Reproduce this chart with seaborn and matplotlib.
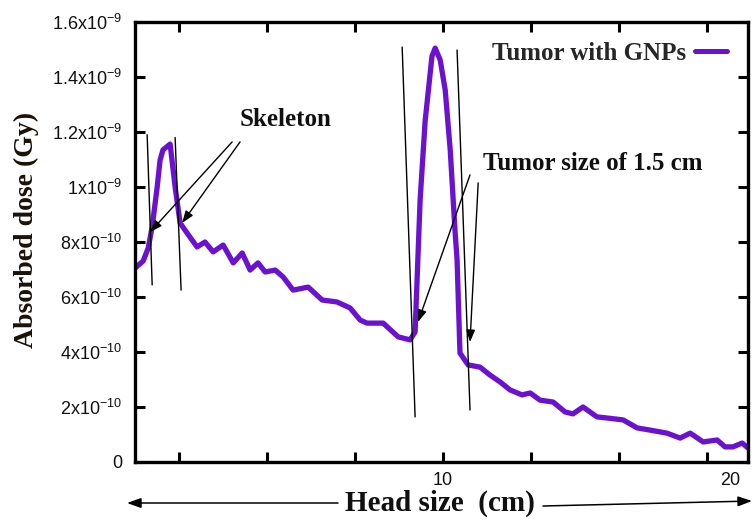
import numpy as np
import pandas as pd
import matplotlib
matplotlib.use("Agg")
import matplotlib.pyplot as plt
import matplotlib.transforms as mtransforms
from matplotlib.lines import Line2D
import seaborn as sns

# ---------------- data ----------------
head_size_cm = [-1.67, -1.36, -1.17, -1.02, -0.83, -0.72, -0.61, -0.34, -0.15, 0.04,
                0.30, 0.68, 0.98, 1.29, 1.67, 2.05, 2.39, 2.69, 2.99, 3.26,
                3.64, 3.94, 4.32, 4.89, 5.42, 5.98, 6.48, 6.86, 7.12, 7.73,
                8.30, 8.75, 8.94, 9.13, 9.32, 9.58, 9.70, 9.89, 10.08, 10.27,
                10.45, 10.53, 10.64, 10.95, 11.40, 11.78, 12.16, 12.54, 12.99, 13.30,
                13.67, 14.17, 14.62, 14.92, 15.30, 15.83, 16.21, 16.82, 17.35, 17.84,
                18.48, 18.98, 19.36, 19.85, 20.38, 20.68, 20.98, 21.33, 21.55]
dose_gy = [7.05e-10, 7.31e-10, 7.78e-10, 8.55e-10, 1.000e-9, 1.098e-9, 1.135e-9, 1.156e-9, 1.000e-9, 8.69e-10,
           8.33e-10, 7.82e-10, 8.00e-10, 7.64e-10, 7.89e-10, 7.24e-10, 7.60e-10, 6.98e-10, 7.24e-10, 6.91e-10,
           6.98e-10, 6.73e-10, 6.25e-10, 6.36e-10, 5.89e-10, 5.82e-10, 5.60e-10, 5.16e-10, 5.05e-10, 5.05e-10,
           4.55e-10, 4.44e-10, 4.73e-10, 9.53e-10, 1.240e-9, 1.476e-9, 1.505e-9, 1.462e-9, 1.353e-9, 1.135e-9,
           8.44e-10, 7.35e-10, 3.96e-10, 3.53e-10, 3.45e-10, 3.16e-10, 2.91e-10, 2.62e-10, 2.44e-10, 2.51e-10,
           2.25e-10, 2.18e-10, 1.82e-10, 1.75e-10, 2.00e-10, 1.64e-10, 1.60e-10, 1.53e-10, 1.24e-10, 1.16e-10,
           1.05e-10, 0.87e-10, 1.05e-10, 0.73e-10, 0.80e-10, 0.55e-10, 0.55e-10, 0.69e-10, 0.51e-10]

series_label = "Tumor with GNPs"
x_tick_positions = [0, 10 / 3, 20 / 3, 10, 40 / 3, 50 / 3, 20]
x_tick_labels = ["", "", "", "10", "", "", "20"]
y_tick_values = [0, 2e-10, 4e-10, 6e-10, 8e-10, 1e-9, 1.2e-9, 1.4e-9, 1.6e-9]
y_tick_labels = ["0", "2x10$^{-10}$", "4x10$^{-10}$", "6x10$^{-10}$", "8x10$^{-10}$",
                 "1x10$^{-9}$", "1.2x10$^{-9}$", "1.4x10$^{-9}$", "1.6x10$^{-9}$"]

# ---------------- style ----------------
sns.set_theme(style="white")
plt.rcParams["font.family"] = ["Liberation Sans", "DejaVu Sans"]
plt.rcParams["mathtext.default"] = "regular"

purple = "#6a12d0"
serif = ["Liberation Serif", "DejaVu Serif"]

fig = plt.figure(figsize=(7.53, 5.2), dpi=100)
ax = fig.add_axes([135 / 753, 1 - 462 / 520, (748 - 135) / 753, (462 - 22) / 520])

df = pd.DataFrame({"Head size (cm)": head_size_cm, "Absorbed dose (Gy)": dose_gy})
sns.lineplot(data=df, x="Head size (cm)", y="Absorbed dose (Gy)", ax=ax,
             color=purple, linewidth=3.8, legend=False)

ax.set_xlim(-1.67, 21.55)
ax.set_ylim(0, 1.6e-9)
ax.set_xticks(x_tick_positions)
ax.set_xticklabels(x_tick_labels)
ax.set_yticks(y_tick_values)
ax.set_yticklabels(y_tick_labels)
ax.set_xlabel("")
ax.set_ylabel("")

for sp in ax.spines.values():
    sp.set_visible(True)
    sp.set_color("black")
    sp.set_linewidth(2.4)
ax.tick_params(axis="both", which="major", direction="in", length=7, width=2.2,
               top=True, right=True, bottom=True, left=True, colors="black",
               labelsize=13, labelcolor="#111111")
ax.tick_params(axis="y", pad=9)
ax.tick_params(axis="x", pad=7)
# the "20" label sits a little to the right of its tick
for lab in ax.get_xticklabels():
    if lab.get_text() == "20":
        lab.set_transform(lab.get_transform() +
                          mtransforms.ScaledTranslation(23 / 100, 0, fig.dpi_scale_trans))

# legend (text then sample line)
handle = Line2D([], [], color=purple, linewidth=3.6)
leg = ax.legend([handle], [series_label], loc="center right",
                bbox_to_anchor=((727 - 135) / 613, (462 - 53) / 440),
                frameon=False, markerfirst=False, handlelength=1.3,
                handletextpad=0.35, borderpad=0, borderaxespad=0,
                prop={"family": serif, "weight": "bold", "size": 18})

# ---------------- annotations ----------------
txt_kw = dict(family=serif, weight="bold", color="#101010")
arrow_kw = dict(arrowstyle="-|>,head_length=0.6,head_width=0.22", color="black", lw=1.0,
                shrinkA=0, shrinkB=0)
thin_kw = dict(color="black", lw=1.0)

ax.text(4.02, 1.244e-9, "Skeleton", ha="center", va="center", fontsize=18, **txt_kw)
ax.annotate("", xy=(-1.10, 0.836e-9), xytext=(2.01, 1.164e-9), arrowprops=arrow_kw)
ax.annotate("", xy=(0.114, 0.869e-9), xytext=(2.31, 1.164e-9), arrowprops=arrow_kw)
ax.plot([-1.21, -1.02], [1.19e-9, 0.644e-9], **thin_kw)
ax.plot([-0.15, 0.076], [1.18e-9, 0.625e-9], **thin_kw)

ax.text(11.52, 1.087e-9, "Tumor size of 1.5 cm", ha="left", va="center", fontsize=18, **txt_kw)
ax.annotate("", xy=(9.05, 0.509e-9), xytext=(11.02, 1.044e-9), arrowprops=arrow_kw)
ax.annotate("", xy=(11.02, 0.436e-9), xytext=(11.33, 1.015e-9), arrowprops=arrow_kw)
ax.plot([8.45, 8.94], [1.509e-9, 0.164e-9], **thin_kw)
ax.plot([10.53, 11.02], [1.498e-9, 0.189e-9], **thin_kw)

# axis titles
fig.text(26 / 753, 1 - 230 / 520, "Absorbed dose (Gy)", rotation=90, ha="center", va="center",
         fontsize=20, color="#1a1208", family=serif, weight="bold")
fig.text(440 / 753, 1 - 503 / 520, "Head size  (cm)", ha="center", va="center",
         fontsize=21, color="#101010", family=serif, weight="bold")
long_arrow = dict(arrowstyle="-|>,head_length=0.7,head_width=0.25", color="black", lw=1.1,
                  shrinkA=0, shrinkB=0)
ax.annotate("", xy=(127, 17), xytext=(338, 17), xycoords="figure pixels",
            textcoords="figure pixels", arrowprops=long_arrow, annotation_clip=False)
ax.annotate("", xy=(752, 19), xytext=(543, 14), xycoords="figure pixels",
            textcoords="figure pixels", arrowprops=long_arrow, annotation_clip=False)

fig.savefig("out.png", dpi=100, facecolor="white")
